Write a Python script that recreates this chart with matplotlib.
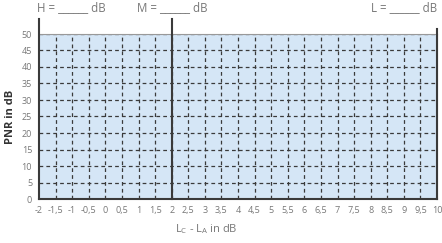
import matplotlib.pyplot as plt
import numpy as np

x_ticks = np.arange(-2, 10.01, 0.5)
y_ticks = np.arange(0, 51, 5)
x_labels = [("%g" % v).replace(".", ",") for v in x_ticks]
field_labels = ["H = ______ dB", "M = ______ dB", "L = ______ dB"]
field_x = [-2.05, 0.95, 10.0]
divider_x = [-2, 2]

plt.rcParams["font.family"] = ["Open Sans", "DejaVu Sans"]
grey = "#777777"
dark = "#3a3a3a"

fig = plt.figure(figsize=(4.42, 2.43), dpi=100)
ax = fig.add_axes([39 / 442, 1 - 199 / 243, 398 / 442, 165 / 243])
ax.set_facecolor("#d5e6f6")
ax.set_xlim(-2, 10)
ax.set_ylim(0, 50)

for v in x_ticks[1:-1]:
    ax.axvline(v, color=dark, lw=0.9, ls=(0, (3, 2.5)), zorder=1)
for v in y_ticks[1:]:
    ax.axhline(v, color=dark, lw=0.9, ls=(0, (3, 2.5)), zorder=1)

for s in ["top", "right"]:
    ax.spines[s].set_color("#999999")
    ax.spines[s].set_linewidth(0.8)
ax.spines["left"].set_visible(False)
ax.spines["bottom"].set_color(dark)
ax.spines["bottom"].set_linewidth(1.5)

# tall divider lines reaching above the grid
for xv in divider_x:
    ax.plot([xv, xv], [0, 54.5], color=dark, lw=1.5, clip_on=False, zorder=3)
ax.plot([10, 10], [0, 51.5], color=dark, lw=1.5, clip_on=False, zorder=3)

ax.set_xticks(x_ticks)
ax.set_xticklabels(x_labels)
ax.set_yticks(y_ticks)
ax.tick_params(length=0, labelsize=6.5, colors=grey, pad=5)

ax.set_xlabel("L$_\\mathregular{C}$ - L$_\\mathregular{A}$ in dB", fontsize=8, color=grey)
ax.xaxis.set_label_coords(0.42, -0.14)
ax.set_ylabel("PNR in dB", fontsize=8, fontweight="bold", color="#333333", labelpad=4)

for i, t in enumerate(field_labels):
    ha = "right" if i == 2 else "left"
    ax.text(field_x[i], 58.0, t, fontsize=8.3, color=grey, ha=ha, va="center", clip_on=False)

fig.savefig("out.png", dpi=100)
